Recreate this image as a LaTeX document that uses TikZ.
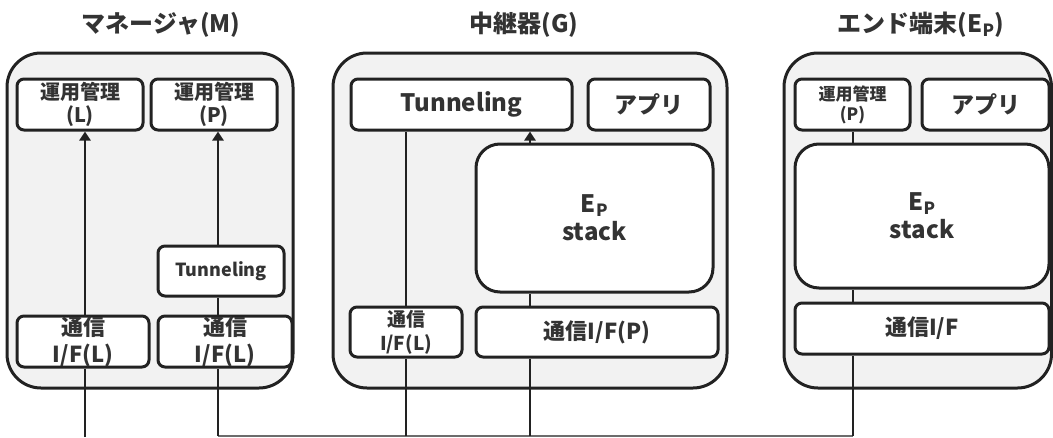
\documentclass[tikz,border=0pt]{standalone}
\usepackage{fontspec}
\setmainfont{Noto Sans CJK JP Black}
\usetikzlibrary{arrows.meta}
\definecolor{txt}{HTML}{333333}
\definecolor{ln}{HTML}{222222}
\definecolor{bg}{HTML}{F2F2F2}
\tikzset{
  outerbox/.style={draw=ln, line width=3pt, fill=bg, rounded corners=34pt},
  inbox/.style={draw=ln, line width=3pt, fill=white, rounded corners=7pt, inner sep=0pt, text=txt, align=center},
  bigbox/.style={inbox, rounded corners=24pt},
  conn/.style={draw=ln, line width=2.6pt},
  arr/.style={conn, -{Triangle[width=11pt,length=9pt]}},
  bus/.style={draw=gray!85!black, line width=1.2pt},
  ttl/.style={text=txt, font=\fontsize{24}{28}\selectfont},
}
\begin{document}
\begin{tikzpicture}[x=1pt,y=-1pt]
\useasboundingbox (0,0) rectangle (1053,437);
% titles
\node[ttl] (tM) at (161,25) {マネージャ(M)};
\node[ttl] (tG) at (524,25) {中継器(G)};
\node[ttl] (tE) at (921,25) {エンド端末(E\textsubscript{P})};
% outer boxes
\path[outerbox] (7,53) rectangle (293,388);
\path[outerbox] (333,53) rectangle (727,388);
\path[outerbox] (784,53) rectangle (1051.5,388);
% ---- Manager
\node[inbox, minimum width=126pt, minimum height=51pt, font=\fontsize{20}{23}\selectfont] (mL) at (80,104.5) {運用管理\\(L)};
\node[inbox, minimum width=126pt, minimum height=51pt, font=\fontsize{20}{23}\selectfont] (mP) at (214,104.5) {運用管理\\(P)};
\node[inbox, minimum width=126pt, minimum height=50pt, font=\fontsize{18}{20}\selectfont] (mT) at (221,271) {Tunneling};
\node[inbox, minimum width=132pt, minimum height=51pt, font=\fontsize{22}{27}\selectfont] (mIL) at (83,341.5) {通信\\I/F(L)};
\node[inbox, minimum width=134pt, minimum height=51pt, font=\fontsize{22}{27}\selectfont] (mIR) at (225,341.5) {通信\\I/F(L)};
% ---- Relay
\node[inbox, minimum width=221pt, minimum height=51pt, font=\fontsize{24}{26}\selectfont] (gT) at (461.5,104.5) {Tunneling};
\node[inbox, minimum width=122pt, minimum height=51pt, font=\fontsize{23}{26}\selectfont] (gA) at (649,104.5) {アプリ};
\node[bigbox, minimum width=237pt, minimum height=148pt, font=\fontsize{24}{28}\selectfont] (gS) at (594.5,218) {E\textsubscript{P}\\stack};
\node[inbox, minimum width=112pt, minimum height=50pt, font=\fontsize{19}{24}\selectfont] (gIL) at (406,332) {通信\\I/F(L)};
\node[inbox, minimum width=242pt, minimum height=50pt, font=\fontsize{22}{26}\selectfont] (gIP) at (597,332) {通信I/F(P)};
% ---- End terminal
\node[inbox, minimum width=115pt, minimum height=51pt, font=\fontsize{17}{20}\selectfont] (eP) at (852.5,104.5) {運用管理\\(P)};
\node[inbox, minimum width=127pt, minimum height=51pt, font=\fontsize{23}{26}\selectfont] (eA) at (985.5,104.5) {アプリ};
\node[bigbox, minimum width=254pt, minimum height=144pt, font=\fontsize{24}{28}\selectfont] (eS) at (922,216) {E\textsubscript{P}\\stack};
\node[inbox, minimum width=254pt, minimum height=51pt, font=\fontsize{22}{26}\selectfont] (eI) at (922,328.5) {通信I/F};
% line coordinates
\coordinate (b1) at (85,437);
\coordinate (b2) at (218,436);
\coordinate (b3) at (406,436);
\coordinate (b4) at (530,436);
\coordinate (b5) at (853,436);
% bus
\draw[bus] (b2) -- (b5);
% connectors manager
\draw[conn] (b1) -- (b1 |- mIL.south);
\draw[arr] (b1 |- mIL.north) -- (b1 |- mL.south);
\draw[conn] (b2) -- (b2 |- mIR.south);
\draw[conn] (b2 |- mIR.north) -- (b2 |- mT.south);
\draw[arr] (b2 |- mT.north) -- (b2 |- mP.south);
% connectors relay
\draw[conn] (b3) -- (b3 |- gIL.south);
\draw[conn] (b3 |- gIL.north) -- (b3 |- gT.south);
\draw[conn] (b4) -- (b4 |- gIP.south);
\draw[conn] (b4 |- gIP.north) -- (b4 |- gS.south);
\draw[arr] (b4 |- gS.north) -- (b4 |- gT.south);
% connectors end
\draw[conn] (b5) -- (b5 |- eI.south);
\draw[conn] (b5 |- eI.north) -- (b5 |- eS.south);
\draw[conn] (b5 |- eS.north) -- (b5 |- eP.south);
\end{tikzpicture}
\end{document}
